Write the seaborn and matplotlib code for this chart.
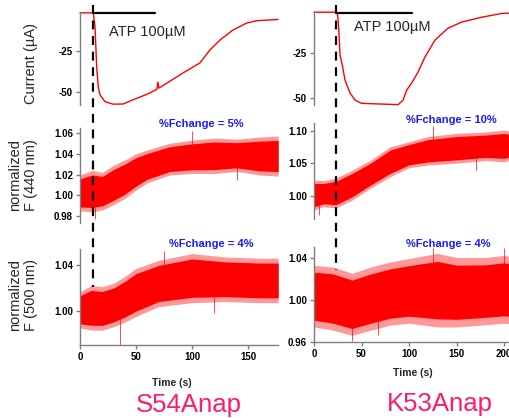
import numpy as np
import pandas as pd
import matplotlib.pyplot as plt
import matplotlib.transforms as mtrans
import seaborn as sns

sns.set_style('ticks')
plt.rcParams['font.family'] = ['Liberation Sans', 'DejaVu Sans']

# Current traces (uA)
t_cur_s54 = [0, 11.9, 13.4, 14.9, 16.3, 17.9, 22.3, 29.5, 38.4, 47.3, 62.5, 68.8, 69.5, 70.5,
             77.7, 92, 107, 116, 125, 136.6, 149, 158, 176.8]
i_cur_s54 = [-2.3, -2.3, -10.6, -34.7, -46.8, -51.5, -55.6, -57.1, -57.0, -54.5, -50.4, -48.0, -43.8, -47.5,
             -44.4, -38.4, -32.4, -24.6, -18.6, -12.6, -8.4, -7.0, -6.3]
t_cur_k53 = [0, 23.2, 24.9, 26.3, 27.4, 29.8, 32.6, 37.9, 43.2, 50.2, 88.7, 93.7, 97.6, 102.8,
             109.5, 116.8, 127.4, 141, 155.5, 176.5, 197.6, 206.3]
i_cur_k53 = [-2.1, -2.1, -3.7, -13.7, -26.0, -31.5, -39.8, -47.0, -51.0, -52.8, -53.5, -51.0, -45.4, -41.5,
             -35.4, -27.0, -17.6, -11.0, -7.6, -4.9, -2.8, -2.6]

# Normalized fluorescence, envelope of the noisy trace (low / high)
t_440_s54 = [0, 11, 20, 30, 40, 50, 60, 80, 100, 120, 140, 160, 177]
lo_440_s54 = [0.985, 0.984, 0.986, 0.991, 0.997, 1.005, 1.012, 1.0195, 1.021, 1.021, 1.023, 1.0195, 1.0185]
hi_440_s54 = [1.0195, 1.024, 1.022, 1.029, 1.034, 1.040, 1.0436, 1.050, 1.053, 1.055, 1.054, 1.056, 1.057]

t_440_k53 = [0, 10, 23, 40, 60, 80, 100, 120, 150, 180, 200, 206.3]
lo_440_k53 = [0.978, 0.983, 0.981, 0.993, 1.012, 1.029, 1.043, 1.047, 1.050, 1.054, 1.052, 1.055]
hi_440_k53 = [1.024, 1.023, 1.027, 1.039, 1.055, 1.075, 1.083, 1.091, 1.096, 1.098, 1.101, 1.099]

t_500_s54 = [0, 10, 20, 30, 40, 50, 70, 100, 130, 160, 177]
lo_500_s54 = [0.985, 0.983, 0.983, 0.986, 0.990, 0.995, 1.0035, 1.007, 1.008, 1.007, 1.007]
hi_500_s54 = [1.0166, 1.022, 1.021, 1.024, 1.030, 1.037, 1.044, 1.050, 1.047, 1.046, 1.046]

t_500_k53 = [0, 20, 40, 60, 80, 100, 130, 150, 180, 200, 206.3]
lo_500_k53 = [0.974, 0.971, 0.966, 0.971, 0.9757, 0.9775, 0.974, 0.974, 0.976, 0.9775, 0.977]
hi_500_k53 = [1.0325, 1.031, 1.025, 1.031, 1.0357, 1.039, 1.044, 1.040, 1.040, 1.042, 1.041]

# single spikes sticking out of the noise (time, value)
spikes = {
    '440_s54': [(13, 0.977), (100, 1.062), (140, 1.015)],
    '440_k53': [(5, 0.970), (125, 1.107), (170, 1.040)],
    '500_s54': [(36, 0.970), (75, 1.052), (120, 0.998)],
    '500_k53': [(40, 0.961), (67, 0.966), (125, 1.049), (200, 1.049)],
}

atp_on = {'s54': (13.4, 67), 'k53': (25.3, 103)}
dash_t = {'s54': 11.6, 'k53': 23.2}
fchange = {'440_s54': '%Fchange = 5%', '440_k53': '%Fchange = 10%',
           '500_s54': '%Fchange = 4%', '500_k53': '%Fchange = 4%'}

W, H = 510, 418
fig = plt.figure(figsize=(W / 100, H / 100), dpi=100)


def add_ax(x0, y0, x1, y1):
    return fig.add_axes([x0 / W, 1 - y1 / H, (x1 - x0) / W, (y1 - y0) / H])


axes = {
    'cur_s54': add_ax(80, 12, 278, 105),
    'cur_k53': add_ax(314, 12, 510, 105),
    '440_s54': add_ax(80, 128, 278, 223),
    '440_k53': add_ax(314, 123, 510, 219),
    '500_s54': add_ax(80, 249, 278, 345),
    '500_k53': add_ax(314, 247, 510, 342),
}

red = '#ff0000'
grey = '#7f7f7f'

# current traces
cur = pd.DataFrame({'t': t_cur_s54, 'i': i_cur_s54})
sns.lineplot(data=cur, x='t', y='i', ax=axes['cur_s54'], color=red, lw=1.0, clip_on=False)
cur = pd.DataFrame({'t': t_cur_k53, 'i': i_cur_k53})
sns.lineplot(data=cur, x='t', y='i', ax=axes['cur_k53'], color=red, lw=1.0, clip_on=False)
axes['cur_s54'].set_xlim(0, 176.8)
axes['cur_s54'].set_ylim(-57.6, -1.8)
axes['cur_k53'].set_xlim(0, 206.3)
axes['cur_k53'].set_ylim(-53.7, -2.0)
for k in ['cur_s54', 'cur_k53']:
    axes[k].set_yticks([-25, -50])

# fluorescence bands
bands = {
    '440_s54': (t_440_s54, lo_440_s54, hi_440_s54),
    '440_k53': (t_440_k53, lo_440_k53, hi_440_k53),
    '500_s54': (t_500_s54, lo_500_s54, hi_500_s54),
    '500_k53': (t_500_k53, lo_500_k53, hi_500_k53),
}
for k, (t, lo, hi) in bands.items():
    ax = axes[k]
    t, lo, hi = np.array(t), np.array(lo), np.array(hi)
    mid = (lo + hi) / 2
    half = (hi - lo) / 2
    ax.fill_between(t, lo, hi, color=red, alpha=0.4, lw=0)
    ax.fill_between(t, mid - 0.78 * half, mid + 0.78 * half, color=red, lw=0)
    for ts, vs in spikes[k]:
        ax.vlines(ts, vs, np.interp(ts, t, mid), color=red, lw=0.7, alpha=0.7)

axes['440_s54'].set_ylim(0.9734, 1.0647)
axes['440_s54'].set_yticks([0.98, 1.00, 1.02, 1.04, 1.06])
axes['440_k53'].set_ylim(0.964, 1.1118)
axes['440_k53'].set_yticks([1.00, 1.05, 1.10])
axes['500_s54'].set_ylim(0.970, 1.054)
axes['500_s54'].set_yticks([1.00, 1.04])
axes['500_k53'].set_ylim(0.9597, 1.050)
axes['500_k53'].set_yticks([0.96, 1.00, 1.04])
for k in ['440_s54', '500_s54']:
    axes[k].set_xlim(0, 176.8)
for k in ['440_k53', '500_k53']:
    axes[k].set_xlim(0, 206.3)

axes['500_s54'].set_xticks([0, 50, 100, 150])
axes['500_k53'].set_xticks([0, 50, 100, 150, 200])

for name, ax in axes.items():
    ax.set_facecolor('none')
    ax.set_xlabel('')
    ax.set_ylabel('')
    for s in ['top', 'right']:
        ax.spines[s].set_visible(False)
    for s in ['left', 'bottom']:
        ax.spines[s].set_color(grey)
        ax.spines[s].set_linewidth(1.0)
    ax.tick_params(colors=grey, labelcolor='black', length=3, width=1, labelsize=7, pad=2)
    ax.yaxis.set_major_formatter(plt.FuncFormatter(
        lambda v, p: f'{v:.0f}' if abs(v) >= 10 else f'{v:.2f}'))
    ax.xaxis.set_major_formatter(plt.FuncFormatter(lambda v, p: f'{v:.0f}'))
    if not name.startswith('500'):
        ax.spines['bottom'].set_visible(False)
        ax.tick_params(axis='x', bottom=False, labelbottom=False)
    for lab in ax.get_yticklabels() + ax.get_xticklabels():
        lab.set_fontweight('bold')

# dashed lines and ATP bars
for side, (top_ax, y_end) in {'s54': (axes['cur_s54'], 287), 'k53': (axes['cur_k53'], 270)}.items():
    tr = mtrans.blended_transform_factory(top_ax.transData, fig.transFigure)
    x = dash_t[side]
    fig.add_artist(plt.Line2D([x, x], [1 - 5 / H, 1 - y_end / H], transform=tr,
                              color='black', lw=1.6, ls=(0, (4, 3))))
    a0, a1 = atp_on[side]
    fig.add_artist(plt.Line2D([a0, a1], [1 - 13 / H, 1 - 13 / H], transform=tr,
                              color='black', lw=1.6))

fig.text(109 / W, 1 - 32 / H, 'ATP 100µM', fontsize=10.5, va='center', ha='left')
fig.text(354 / W, 1 - 27 / H, 'ATP 100µM', fontsize=10.5, va='center', ha='left')

blue = '#1a1aff'
for k, (x, y) in {'440_s54': (201, 124), '440_k53': (451, 120),
                  '500_s54': (211, 244), '500_k53': (448, 244)}.items():
    fig.text(x / W, 1 - y / H, fchange[k], color=blue, fontsize=8, fontweight='bold',
             ha='center', va='center')

# y labels
fig.text(31 / W, 1 - 63 / H, 'Current (µA)', rotation=90, fontsize=10.5, ha='center', va='center')
fig.text(23 / W, 1 - 175 / H, 'normalized\nF (440 nm)', rotation=90, fontsize=10.5,
         ha='center', va='center', linespacing=1.15)
fig.text(23 / W, 1 - 295 / H, 'normalized\nF (500 nm)', rotation=90, fontsize=10.5,
         ha='center', va='center', linespacing=1.15)

# x labels
fig.text(172 / W, 1 - 383 / H, 'Time (s)', fontsize=7.5, fontweight='bold', ha='center', va='center')
fig.text(413 / W, 1 - 373 / H, 'Time (s)', fontsize=7.5, fontweight='bold', ha='center', va='center')

pink = '#ff1a6e'
fig.text(189 / W, 1 - 405 / H, 'S54Anap', color=pink, fontsize=18.5, ha='center', va='center')
fig.text(440 / W, 1 - 404 / H, 'K53Anap', color=pink, fontsize=18.5, ha='center', va='center')

fig.savefig('out.png', dpi=100)
